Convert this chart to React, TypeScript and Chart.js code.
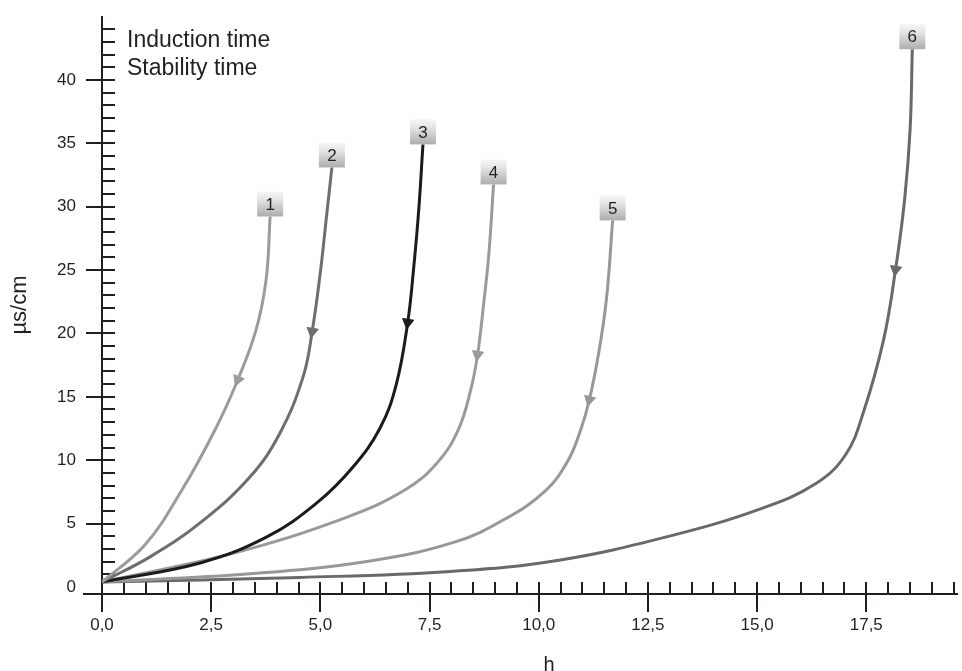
import { useEffect, useRef } from "react";
import { Chart, registerables } from "chart.js";

Chart.register(...registerables);

// ---- data ----
const curveNames = ["1", "2", "3", "4", "5", "6"];
const curve1X = [0, 0.985, 1.833, 2.589, 3.11, 3.529, 3.758, 3.85];
const curve1Y = [0.39, 3.32, 7.66, 12.4, 16.35, 20.3, 24.25, 29.23];
const curve2X = [0, 1.1, 2.246, 3.391, 4.079, 4.606, 4.812, 5.007, 5.133, 5.264];
const curve2Y = [0.39, 2.37, 5.05, 8.69, 12.17, 16.59, 20.15, 25.04, 28.99, 33.1];
const curve3X = [0, 2.246, 3.774, 4.92, 5.752, 6.37, 6.737, 7.0, 7.133, 7.253, 7.349];
const curve3Y = [0.39, 1.89, 3.95, 6.63, 9.48, 12.56, 15.96, 20.86, 25.04, 29.78, 34.92];
const curve4X = [0, 3.002, 5.568, 6.943, 7.677, 8.157, 8.444, 8.6, 8.737, 8.857, 8.966];
const curve4Y = [0.39, 2.65, 5.45, 7.66, 9.8, 12.4, 15.56, 18.33, 22.28, 26.23, 31.76];
const curve5X = [0, 3.391, 6.141, 8.089, 9.235, 10.151, 10.655, 10.953, 11.16, 11.366, 11.549, 11.693];
const curve5Y = [0.39, 1.03, 2.05, 3.55, 5.37, 7.58, 9.87, 12.32, 14.77, 18.33, 22.67, 28.92];
const curve6X = [0, 4.537, 7.974, 10.495, 13.016, 15.078, 16.338, 17.026, 17.438, 17.897, 18.17, 18.378, 18.503, 18.554];
const curve6Y = [0.39, 0.75, 1.22, 2.13, 4.03, 6.16, 8.14, 10.43, 13.82, 19.51, 25.04, 30.57, 36.1, 42.43];
const arrowAtX = [3.11, 4.812, 7.0, 8.6, 11.16, 18.17];

const xMajorTicks = [0, 2.5, 5, 7.5, 10, 12.5, 15, 17.5];
const yMajorTicks = [0, 5, 10, 15, 20, 25, 30, 35, 40];
const legendLines = ["Induction time", "Stability time"];
const xTitle = "h";
const yTitle = "µs/cm";

const curvesX = [curve1X, curve2X, curve3X, curve4X, curve5X, curve6X];
const curvesY = [curve1Y, curve2Y, curve3Y, curve4Y, curve5Y, curve6Y];
const curveColors = ["#9b9b9d", "#6e6e70", "#1b1b1b", "#9a9a9c", "#98989a", "#69696b"];

const FONT = "'Liberation Sans', Arial, Helvetica, sans-serif";
const INK = "#231f20";

const X_MIN = 0;
const X_MAX = 19.6;
const Y_MIN = -0.56;
const Y_MAX = 45.05;

const xMinor: number[] = [];
for (let i = 1; i <= 39; i++) {
  const v = i * 0.5;
  if (Math.abs(v / 2.5 - Math.round(v / 2.5)) > 1e-6) xMinor.push(v);
}
const yMinor: number[] = [];
for (let i = 1; i <= 44; i++) {
  if (i % 5 !== 0) yMinor.push(i);
}

const decoPlugin = {
  id: "deco",
  beforeDatasetsDraw(chart: any) {
    const { ctx, chartArea } = chart;
    const xs = chart.scales.x;
    const ys = chart.scales.y;
    const x0 = xs.getPixelForValue(0);
    const yb = chartArea.bottom;
    ctx.save();
    ctx.strokeStyle = INK;
    ctx.lineWidth = 2;
    ctx.lineCap = "butt";
    const seg = (a: number, b: number, c: number, d: number) => {
      ctx.beginPath();
      ctx.moveTo(a, b);
      ctx.lineTo(c, d);
      ctx.stroke();
    };
    seg(x0, chartArea.top, x0, yb + 18);
    seg(x0 - 19, yb, chartArea.right, yb);
    xMajorTicks.forEach((v) => {
      if (v === 0) return;
      const px = Math.round(xs.getPixelForValue(v));
      seg(px, yb - 12, px, yb + 18);
    });
    xMinor.forEach((v) => {
      const px = Math.round(xs.getPixelForValue(v));
      seg(px, yb - 12, px, yb);
    });
    yMajorTicks.forEach((v) => {
      if (v === 0) return;
      const py = Math.round(ys.getPixelForValue(v));
      seg(x0 - 16, py, x0 + 13, py);
    });
    yMinor.forEach((v) => {
      const py = Math.round(ys.getPixelForValue(v));
      seg(x0, py, x0 + 13, py);
    });
    ctx.restore();
  },
  afterDatasetsDraw(chart: any) {
    const { ctx } = chart;
    ctx.save();
    chart.data.datasets.forEach((ds: any, i: number) => {
      const meta = chart.getDatasetMeta(i);
      const el = meta.data[meta.data.length - 1];
      if (!el) return;
      const w = 26;
      const h = 25;
      const bx = el.x - w / 2;
      const by = el.y - h;
      const g = ctx.createLinearGradient(0, by, 0, by + h);
      g.addColorStop(0, "#f6f6f6");
      g.addColorStop(0.3, "#e6e6e7");
      g.addColorStop(1, "#adadaf");
      ctx.fillStyle = g;
      ctx.fillRect(bx, by, w, h);
      ctx.fillStyle = INK;
      ctx.font = `17px ${FONT}`;
      ctx.textAlign = "center";
      ctx.textBaseline = "middle";
      ctx.fillText(ds.label, el.x, by + h / 2 + 1);
    });
    ctx.fillStyle = INK;
    ctx.font = `23px ${FONT}`;
    ctx.textAlign = "left";
    ctx.textBaseline = "alphabetic";
    legendLines.forEach((t, i) => {
      ctx.fillText(t, 127, 47 + i * 28);
    });
    ctx.font = `20px ${FONT}`;
    ctx.textAlign = "center";
    ctx.fillText(xTitle, 549, 671);
    ctx.restore();
  },
};

export default function App() {
  const ref = useRef<HTMLCanvasElement | null>(null);
  useEffect(() => {
    if (!ref.current) return;
    const datasets = curvesX.map((xs, i) => ({
      label: curveNames[i],
      data: xs.map((x, j) => ({ x, y: curvesY[i][j] })),
      borderColor: curveColors[i],
      backgroundColor: curveColors[i],
      borderWidth: 3,
      fill: false,
      tension: 0.4,
      pointStyle: "triangle" as const,
      pointRadius: (c: any) => (Math.abs(c.raw?.x - arrowAtX[c.datasetIndex]) < 1e-6 ? 6.5 : 0),
      pointBorderWidth: 1,
      pointRotation: (c: any) => {
        const chart = c.chart;
        const sx = chart.scales.x;
        const sy = chart.scales.y;
        const d = chart.data.datasets[c.datasetIndex].data;
        const k = c.dataIndex;
        if (!sx || !sy || k <= 0 || k >= d.length - 1) return 180;
        const a = d[k + 1];
        const b = d[k - 1];
        const dx = sx.getPixelForValue(b.x) - sx.getPixelForValue(a.x);
        const dy = sy.getPixelForValue(b.y) - sy.getPixelForValue(a.y);
        return (Math.atan2(dx, -dy) * 180) / Math.PI;
      },
    }));
    const chart = new Chart(ref.current, {
      type: "line",
      data: { datasets },
      plugins: [decoPlugin],
      options: {
        animation: false,
        responsive: false,
        devicePixelRatio: 1,
        layout: { padding: { top: 16, right: 4, left: 0, bottom: 0 } },
        plugins: { legend: { display: false }, tooltip: { enabled: false } },
        scales: {
          x: {
            type: "linear",
            min: X_MIN,
            max: X_MAX,
            grid: { display: false, drawTicks: false },
            border: { display: false },
            afterBuildTicks: (axis: any) => {
              axis.ticks = xMajorTicks.map((v) => ({ value: v }));
            },
            afterFit: (s: any) => {
              s.height = 77;
              s.paddingLeft = 0;
              s.paddingRight = 0;
            },
            ticks: {
              autoSkip: false,
              maxRotation: 0,
              padding: 21,
              color: INK,
              font: { size: 17, family: FONT },
              callback: (v: any) => Number(v).toFixed(1).replace(".", ","),
            },
          },
          y: {
            type: "linear",
            min: Y_MIN,
            max: Y_MAX,
            grid: { display: false, drawTicks: false },
            border: { display: false },
            afterBuildTicks: (axis: any) => {
              axis.ticks = yMajorTicks.map((v) => ({ value: v }));
            },
            afterFit: (s: any) => {
              s.width = 102;
              s.paddingTop = 0;
              s.paddingBottom = 0;
            },
            title: {
              display: true,
              text: yTitle,
              color: INK,
              font: { size: 22, family: FONT },
              padding: { top: 7, bottom: 0 },
            },
            ticks: {
              padding: 26,
              color: INK,
              font: { size: 17, family: FONT },
              callback: (v: any) => String(v),
            },
          },
        },
      },
    } as any);
    return () => chart.destroy();
  }, []);
  return (
    <div style={{ position: "absolute", left: 0, top: 0, width: 962, height: 671, background: "#fff" }}>
      <canvas ref={ref} width={962} height={671} style={{ display: "block" }} />
    </div>
  );
}
